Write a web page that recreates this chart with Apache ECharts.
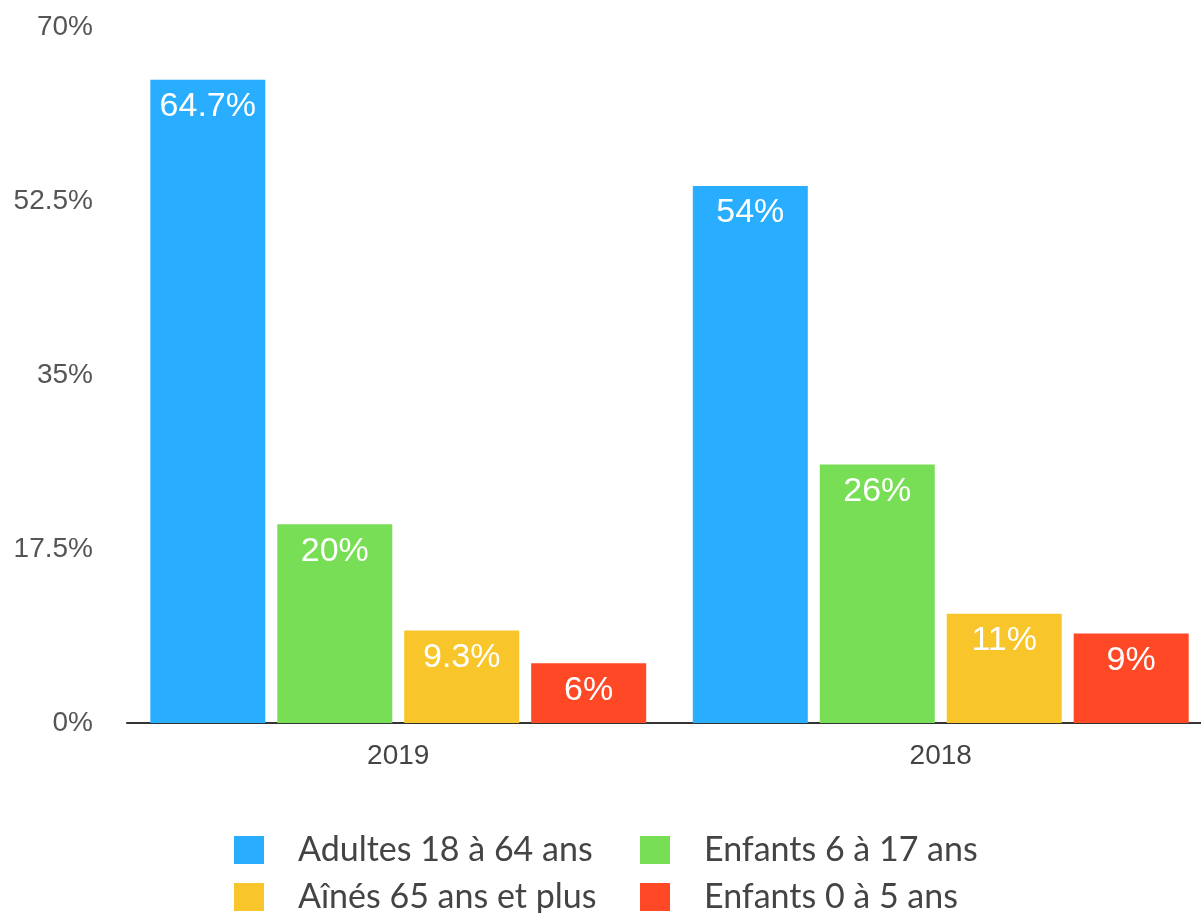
<!DOCTYPE html>
<html><head><meta charset="utf-8">
<script src="https://cdn.jsdelivr.net/npm/echarts@6/dist/echarts.min.js"></script>
<style>html,body{margin:0;padding:0;background:#fff}#c{width:1201px;height:913px}</style>
</head><body><div id="c"></div>
<script>
const categories = ['2019', '2018'];
const seriesNames = ['Adultes 18 à 64 ans', 'Enfants 6 à 17 ans', 'Aînés 65 ans et plus', 'Enfants 0 à 5 ans'];
const adultes = [64.7, 54];
const enfants617 = [20, 26];
const aines = [9.3, 11];
const enfants05 = [6, 9];
const yTicks = [0, 17.5, 35, 52.5, 70];
const colors = ['#29AEFF', '#78DE55', '#F8C52A', '#FF4826'];

const values = [adultes, enfants617, aines, enfants05];
const chart = echarts.init(document.getElementById('c'));
const legendPos = [[234, 833], [640, 833], [234, 880], [640, 880]];
chart.setOption({
  animation: false,
  grid: {left: 127, width: 1085, top: 27, height: 696, containLabel: false, outerBoundsMode: 'none'},
  xAxis: {
    type: 'category', data: categories,
    axisLine: {lineStyle: {color: '#333', width: 2}},
    axisTick: {show: false},
    axisLabel: {color: '#444', fontSize: 28, fontFamily: 'Liberation Sans', margin: 19}
  },
  yAxis: {
    type: 'value', min: yTicks[0], max: yTicks[yTicks.length - 1], interval: 17.5,
    axisLine: {show: false}, axisTick: {show: false}, splitLine: {show: false},
    axisLabel: {color: '#555', fontSize: 28, fontFamily: 'Liberation Sans', margin: 34, formatter: v => v + '%'}
  },
  legend: seriesNames.map((n, i) => ({
    data: [n], left: legendPos[i][0], top: legendPos[i][1], padding: 0,
    icon: 'rect', itemWidth: 30, itemHeight: 28, itemGap: 0,
    textStyle: {color: '#444', fontSize: 34, fontFamily: 'Lato', padding: [0, 0, 0, 29]},
    selectedMode: false
  })),
  series: seriesNames.map((n, i) => ({
    name: n, type: 'bar', data: values[i], barWidth: 115, barGap: '10.4%',
    itemStyle: {color: colors[i]},
    label: {show: true, position: 'insideTop', distance: 10, color: '#fff', fontSize: 34,
      fontFamily: 'Liberation Sans', formatter: p => p.value + '%'}
  }))
});
</script></body></html>
